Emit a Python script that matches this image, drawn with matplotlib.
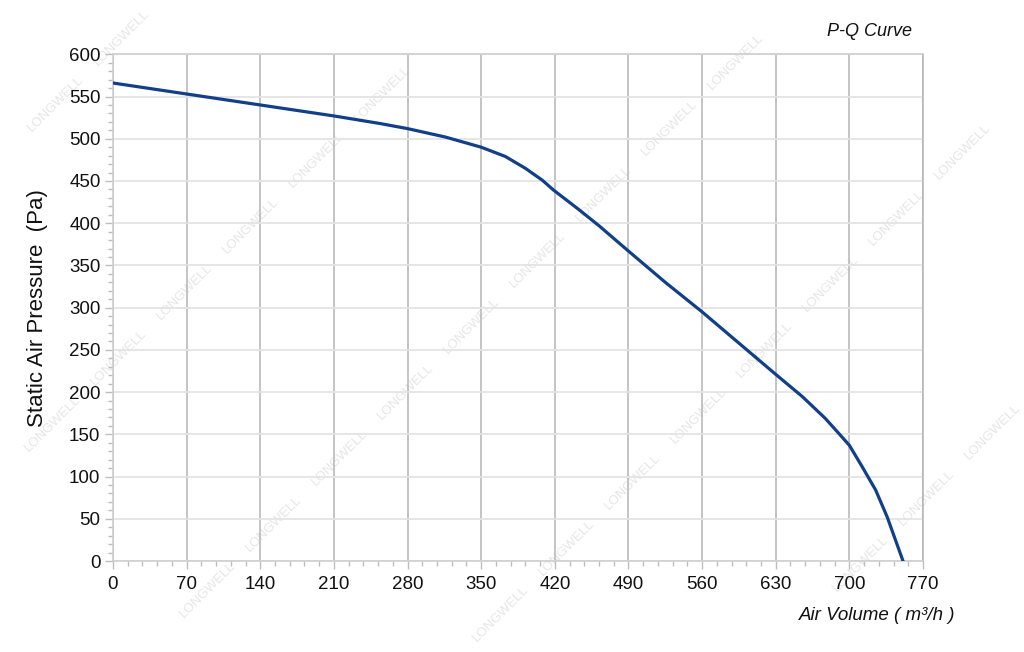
import matplotlib
matplotlib.use("Agg")
from matplotlib import pyplot as plt
from matplotlib.ticker import MultipleLocator

plt.rcParams['font.family'] = ['Liberation Sans', 'DejaVu Sans']

# P-Q curve points
air_volume = [0, 70, 140, 210, 254, 280, 316, 350, 373, 392, 408, 419,
              443, 462, 490, 525, 560, 595, 630, 655, 677, 690, 700, 712,
              725, 736, 751]
pressure = [566, 553, 540, 527, 518, 512, 502, 490, 479, 465, 451, 439,
            416, 397, 367, 330, 295, 258, 221, 195, 169, 151, 137, 112,
            84, 52, 0]

x_ticks = list(range(0, 771, 70))
y_ticks = list(range(0, 601, 50))

fig = plt.figure(figsize=(10.24, 6.52), dpi=100)
ax = fig.add_axes([113 / 1024, 1 - 561 / 652, 810 / 1024, (561 - 54.3) / 652])
ax.set_zorder(1)
ax.patch.set_alpha(0)

ax.plot(air_volume, pressure, color='#123f8a', linewidth=2.3, zorder=3)

ax.set_xlim(0, 770)
ax.set_ylim(0, 600)
ax.set_xticks(x_ticks)
ax.set_yticks(y_ticks)
ax.xaxis.set_minor_locator(MultipleLocator(14))
ax.yaxis.set_minor_locator(MultipleLocator(10))

ax.grid(axis='x', which='major', color='#b4b4b4', linewidth=1.1)
ax.grid(axis='y', which='major', color='#e4e4e4', linewidth=1.3)
ax.set_axisbelow(True)

for side in ['left', 'bottom', 'top']:
    ax.spines[side].set_color('#cccccc')
    ax.spines[side].set_linewidth(1.1)
ax.spines['right'].set_color('#b4b4b4')
ax.spines['right'].set_linewidth(1.1)

ax.tick_params(which='major', length=6, width=1, color='#bdbdbd',
               labelsize=13.5, labelcolor='#111111')
ax.tick_params(which='minor', length=3.5, width=1, color='#bdbdbd')
ax.tick_params(axis='x', which='major', pad=5)
ax.tick_params(axis='y', which='major', pad=3)

ax.set_ylabel('Static Air Pressure  (Pa)', fontsize=16, color='#111111',
              labelpad=15)

fig.text(955 / 1024, 1 - 616 / 652, 'Air Volume ( m³/h )', fontsize=13.5,
         style='italic', ha='right', va='center', color='#111111')
fig.text(912 / 1024, 1 - 32 / 652, 'P-Q Curve', fontsize=13,
         style='italic', ha='right', va='center', color='#111111')

# faint diagonal watermark under the axes, kept clear of the figure edges
for line_sum, start in [(160, -10), (477, 53), (798, 10), (1115, 39), (1425, 3)]:
    px = start
    while px < 1040:
        py = line_sum - px
        if 30 < px < 994 and 30 < py < 622:
            fig.text(px / 1024, 1 - py / 652, 'LONGWELL', fontsize=9.5,
                     rotation=45, ha='center', va='center',
                     color='#e6e6e6', zorder=0)
        px += 66

fig.savefig('out.png', dpi=100)
